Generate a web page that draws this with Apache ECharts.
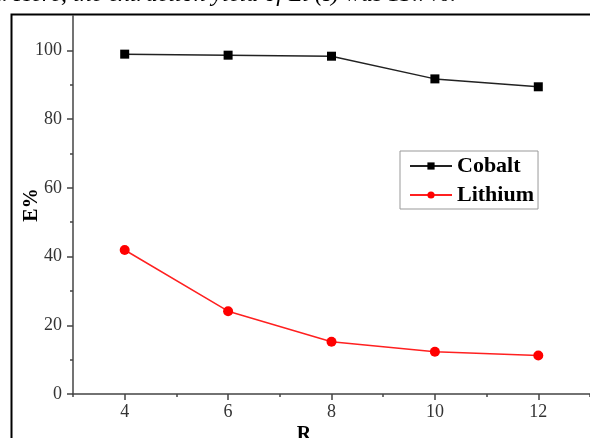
<!DOCTYPE html>
<html><head><meta charset="utf-8">
<script src="https://cdn.jsdelivr.net/npm/echarts@6/dist/echarts.min.js"></script>
<style>html,body{margin:0;padding:0;background:#fff;}#c{width:590px;height:438px;}</style>
</head><body><div id="c"></div>
<script>
const xValues = [4, 6, 8, 10, 12];
const cobalt = [98.9, 98.6, 98.3, 91.7, 89.4];
const lithium = [41.9, 24.1, 15.2, 12.3, 11.2];
const xMajorTicks = [4, 6, 8, 10, 12];
const yMajorTicks = [0, 20, 40, 60, 80, 100];

const serif = '"Liberation Serif", "DejaVu Serif", serif';
const axisCol = '#444';
const chart = echarts.init(document.getElementById('c'));
chart.setOption({
  backgroundColor: '#fff',
  animation: false,
  grid: { left: 73, right: 0, top: 16, bottom: 44, outerBoundsMode: 'none', containLabel: false },
  legend: {
    orient: 'vertical', left: 400, top: 151,
    borderColor: '#999', borderWidth: 1, padding: [4, 4, 3, 9],
    itemWidth: 42, itemHeight: 9, itemGap: 7,
    textStyle: { fontFamily: serif, fontWeight: 'bold', fontSize: 22, color: '#000' },
    data: ['Cobalt', 'Lithium']
  },
  xAxis: [{
    type: 'value', min: 3, max: 13, interval: 1,
    axisLine: { onZero: false, lineStyle: { color: axisCol, width: 1.5 } },
    axisTick: { show: true, inside: false, length: 6, lineStyle: { color: axisCol, width: 1.5 }, customValues: xMajorTicks },
    axisLabel: { customValues: xMajorTicks, fontFamily: serif, fontSize: 18, color: '#333', margin: 9 },
    splitLine: { show: false }
  }, {
    type: 'value', min: 3, max: 13, interval: 1, position: 'bottom',
    axisLine: { show: false },
    axisTick: { show: true, length: 3, lineStyle: { color: axisCol, width: 1.5 } },
    axisLabel: { show: false },
    splitLine: { show: false }
  }],
  yAxis: {
    type: 'value', min: 0, max: 110, interval: 20,
    name: 'E%', nameLocation: 'middle', nameGap: 31, nameRotate: 90, nameMoveOverlap: false,
    nameTextStyle: { fontFamily: serif, fontWeight: 'bold', fontSize: 20, color: '#000' },
    axisLine: { show: true, lineStyle: { color: axisCol, width: 1.5 } },
    axisTick: { show: true, length: 6, lineStyle: { color: axisCol, width: 1.5 }, customValues: yMajorTicks },
    minorTick: { show: true, splitNumber: 2, length: 3, lineStyle: { color: axisCol, width: 1.5 } },
    axisLabel: { customValues: yMajorTicks, fontFamily: serif, fontSize: 18, color: '#333', margin: 11 },
    splitLine: { show: false }
  },
  graphic: [
    { type: 'rect', left: 9, top: 12, shape: { width: 600, height: 450 }, style: { fill: 'none', stroke: '#000', lineWidth: 2 }, z: 100 },
    { type: 'text', x: 304, y: 435, style: { text: 'R', font: 'bold 20px ' + serif, fill: '#000', textAlign: 'center', textVerticalAlign: 'middle' } },
    { type: 'text', x: -10, y: -17, style: { text: 'a. Here, the extraction yield of Li (I) was 13.7%.', font: 'italic 24px ' + serif, fill: '#000', textAlign: 'left', textVerticalAlign: 'top' } }
  ],
  series: [{
    name: 'Cobalt', type: 'line',
    data: xValues.map((x, i) => [x, cobalt[i]]),
    symbol: 'rect', symbolSize: 9,
    itemStyle: { color: '#000' },
    lineStyle: { color: '#222', width: 1.5 }
  }, {
    name: 'Lithium', type: 'line',
    data: xValues.map((x, i) => [x, lithium[i]]),
    symbol: 'circle', symbolSize: 10,
    itemStyle: { color: '#ff0000' },
    lineStyle: { color: '#ff2020', width: 1.5 }
  }]
});
</script></body></html>
